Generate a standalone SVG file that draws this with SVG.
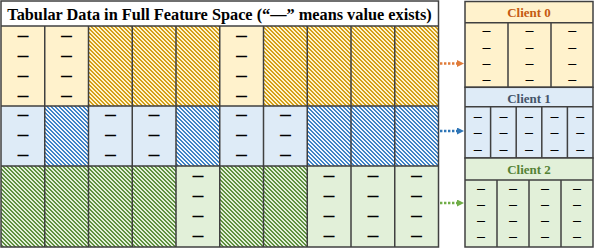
<svg xmlns="http://www.w3.org/2000/svg" width="594" height="248" viewBox="0 0 594 248">
<style>
.t{font-family:"Liberation Serif","Times New Roman",serif;font-weight:bold;}
.d{font-family:"Liberation Serif","Times New Roman",serif;font-size:10px;fill:#000;stroke:#000;stroke-width:0.9;text-anchor:middle;}
.cd{font-family:"Liberation Serif","Times New Roman",serif;font-size:7.5px;fill:#000;stroke:#000;stroke-width:0.35;text-anchor:middle;}
.g{fill:none;stroke:#404040;stroke-width:1.5;}
.ch{font-family:"Liberation Serif","Times New Roman",serif;font-weight:bold;font-size:13px;text-anchor:middle;}
.ar{fill:none;stroke-width:2.5;stroke-dasharray:2.4 1.6;}
.hs{shape-rendering:crispEdges;}
</style>
<defs>
<pattern id="hY" width="4" height="4" patternUnits="userSpaceOnUse"><rect class="hs" width="4" height="4" fill="#FFF2CC"/><path class="hs" d="M0,0h2v1h-2zM1,1h2v1h-2zM2,2h2v1h-2zM3,3h1v1h-1zM0,3h1v1h-1z" fill="#D4A017"/></pattern>
<pattern id="hB" width="4" height="4" patternUnits="userSpaceOnUse"><rect class="hs" width="4" height="4" fill="#F2F7FC"/><path class="hs" d="M0,0h2v1h-2zM1,1h2v1h-2zM2,2h2v1h-2zM3,3h1v1h-1zM0,3h1v1h-1z" fill="#3E83C8"/></pattern>
<pattern id="hG" width="4" height="4" patternUnits="userSpaceOnUse"><rect class="hs" width="4" height="4" fill="#E2F0D9"/><path class="hs" d="M0,0h2v1h-2zM1,1h2v1h-2zM2,2h2v1h-2zM3,3h1v1h-1zM0,3h1v1h-1z" fill="#5F913F"/></pattern>
<marker id="mO" markerUnits="userSpaceOnUse" markerWidth="8" markerHeight="8" refX="1" refY="3.5" orient="auto"><path d="M0,0 L7,3.5 L0,7 z" fill="#E07B39"/></marker>
<marker id="mB" markerUnits="userSpaceOnUse" markerWidth="8" markerHeight="8" refX="1" refY="3.5" orient="auto"><path d="M0,0 L7,3.5 L0,7 z" fill="#2E75B6"/></marker>
<marker id="mG" markerUnits="userSpaceOnUse" markerWidth="8" markerHeight="8" refX="1" refY="3.5" orient="auto"><path d="M0,0 L7,3.5 L0,7 z" fill="#70AD47"/></marker>
</defs>
<rect width="594" height="248" fill="#fff"/>

<g id="table">
<rect x="1" y="1" width="437.5" height="25" fill="#fff"/>
<text class="t" x="219.5" y="20" font-size="16.3" text-anchor="middle">Tabular Data in Full Feature Space (“—” means value exists)</text>

<g id="row-yellow">
<rect x="1" y="26" width="437.5" height="80" fill="#FFF2CC"/>
<rect x="88.5" y="26" width="131.25" height="80" fill="url(#hY)"/>
<rect x="263.5" y="26" width="175" height="80" fill="url(#hY)"/>
<g>
<text class="d" x="22.9" y="39.3">—</text><text class="d" x="22.9" y="59.3">—</text><text class="d" x="22.9" y="79.3">—</text><text class="d" x="22.9" y="99.3">—</text>
<text class="d" x="66.6" y="39.3">—</text><text class="d" x="66.6" y="59.3">—</text><text class="d" x="66.6" y="79.3">—</text><text class="d" x="66.6" y="99.3">—</text>
<text class="d" x="241.6" y="39.3">—</text><text class="d" x="241.6" y="59.3">—</text><text class="d" x="241.6" y="79.3">—</text><text class="d" x="241.6" y="99.3">—</text>
</g>
</g>

<g id="row-blue">
<rect x="1" y="106" width="437.5" height="60" fill="#DEEBF7"/>
<rect x="44.75" y="106" width="43.75" height="60" fill="url(#hB)"/>
<rect x="176" y="106" width="43.75" height="60" fill="url(#hB)"/>
<rect x="307.25" y="106" width="131.25" height="60" fill="url(#hB)"/>
<g>
<text class="d" x="22.9" y="118.3">—</text><text class="d" x="22.9" y="138.3">—</text><text class="d" x="22.9" y="158.3">—</text>
<text class="d" x="110.4" y="118.3">—</text><text class="d" x="110.4" y="138.3">—</text><text class="d" x="110.4" y="158.3">—</text>
<text class="d" x="154.1" y="118.3">—</text><text class="d" x="154.1" y="138.3">—</text><text class="d" x="154.1" y="158.3">—</text>
<text class="d" x="241.6" y="118.3">—</text><text class="d" x="241.6" y="138.3">—</text><text class="d" x="241.6" y="158.3">—</text>
<text class="d" x="285.4" y="118.3">—</text><text class="d" x="285.4" y="138.3">—</text><text class="d" x="285.4" y="158.3">—</text>
</g>
</g>

<g id="row-green">
<rect x="1" y="166" width="437.5" height="81" fill="#E2F0D9"/>
<rect x="1" y="166" width="175" height="81" fill="url(#hG)"/>
<rect x="219.75" y="166" width="87.5" height="81" fill="url(#hG)"/>
<g>
<text class="d" x="197.9" y="178.6">—</text><text class="d" x="197.9" y="198.6">—</text><text class="d" x="197.9" y="218.6">—</text><text class="d" x="197.9" y="238.6">—</text>
<text class="d" x="329.1" y="178.6">—</text><text class="d" x="329.1" y="198.6">—</text><text class="d" x="329.1" y="218.6">—</text><text class="d" x="329.1" y="238.6">—</text>
<text class="d" x="372.9" y="178.6">—</text><text class="d" x="372.9" y="198.6">—</text><text class="d" x="372.9" y="218.6">—</text><text class="d" x="372.9" y="238.6">—</text>
<text class="d" x="416.6" y="178.6">—</text><text class="d" x="416.6" y="198.6">—</text><text class="d" x="416.6" y="218.6">—</text><text class="d" x="416.6" y="238.6">—</text>
</g>
</g>

<path class="g" d="M1,26H438.5M1,106H438.5M1,166H438.5M44.75,26V247M88.5,26V247M132.25,26V247M176,26V247M219.75,26V247M263.5,26V247M307.25,26V247M351,26V247M394.75,26V247"/>
<rect class="g" x="1" y="1" width="437.5" height="246"/>
</g>

<g id="client0">
<rect x="465" y="1.5" width="128" height="85.8" fill="#FFF2CC"/>
<text class="ch" x="529" y="17" fill="#C55A11">Client 0</text>
<path class="g" d="M465,22.7H593M508,22.7V87.3M551,22.7V87.3"/>
<rect class="g" x="465" y="1.5" width="128" height="85.8"/>
<text class="cd" x="486.5" y="33.4">—</text><text class="cd" x="486.5" y="49.5">—</text><text class="cd" x="486.5" y="65.6">—</text><text class="cd" x="486.5" y="81.7">—</text>
<text class="cd" x="529.5" y="33.4">—</text><text class="cd" x="529.5" y="49.5">—</text><text class="cd" x="529.5" y="65.6">—</text><text class="cd" x="529.5" y="81.7">—</text>
<text class="cd" x="572.3" y="33.4">—</text><text class="cd" x="572.3" y="49.5">—</text><text class="cd" x="572.3" y="65.6">—</text><text class="cd" x="572.3" y="81.7">—</text>
</g>

<g id="client1">
<rect x="465" y="87.3" width="128" height="70.7" fill="#DEEBF7"/>
<text class="ch" x="529" y="103" fill="#44546A">Client 1</text>
<path class="g" d="M465,106.7H593M490.6,106.7V158M516.2,106.7V158M541.8,106.7V158M567.4,106.7V158"/>
<rect class="g" x="465" y="87.3" width="128" height="70.7"/>
<text class="cd" x="477.8" y="118.7">—</text><text class="cd" x="477.8" y="135.2">—</text><text class="cd" x="477.8" y="151.7">—</text>
<text class="cd" x="503.4" y="118.7">—</text><text class="cd" x="503.4" y="135.2">—</text><text class="cd" x="503.4" y="151.7">—</text>
<text class="cd" x="529" y="118.7">—</text><text class="cd" x="529" y="135.2">—</text><text class="cd" x="529" y="151.7">—</text>
<text class="cd" x="554.6" y="118.7">—</text><text class="cd" x="554.6" y="135.2">—</text><text class="cd" x="554.6" y="151.7">—</text>
<text class="cd" x="580.2" y="118.7">—</text><text class="cd" x="580.2" y="135.2">—</text><text class="cd" x="580.2" y="151.7">—</text>
</g>

<g id="client2">
<rect x="465" y="158" width="128" height="89" fill="#E2F0D9"/>
<text class="ch" x="529" y="174" fill="#548235">Client 2</text>
<path class="g" d="M465,180H593M497,180V247M529,180V247M561,180V247"/>
<rect class="g" x="465" y="158" width="128" height="89"/>
<text class="cd" x="481" y="190.7">—</text><text class="cd" x="481" y="206.7">—</text><text class="cd" x="481" y="223">—</text><text class="cd" x="481" y="239">—</text>
<text class="cd" x="513" y="190.7">—</text><text class="cd" x="513" y="206.7">—</text><text class="cd" x="513" y="223">—</text><text class="cd" x="513" y="239">—</text>
<text class="cd" x="545" y="190.7">—</text><text class="cd" x="545" y="206.7">—</text><text class="cd" x="545" y="223">—</text><text class="cd" x="545" y="239">—</text>
<text class="cd" x="577" y="190.7">—</text><text class="cd" x="577" y="206.7">—</text><text class="cd" x="577" y="223">—</text><text class="cd" x="577" y="239">—</text>
</g>

<g id="connectors">
<line class="ar" x1="440" y1="63.5" x2="458" y2="63.5" stroke="#E07B39" marker-end="url(#mO)"/>
<line class="ar" x1="440" y1="131" x2="458" y2="131" stroke="#2E75B6" marker-end="url(#mB)"/>
<line class="ar" x1="440" y1="203" x2="458" y2="203" stroke="#70AD47" marker-end="url(#mG)"/>
</g>
</svg>
